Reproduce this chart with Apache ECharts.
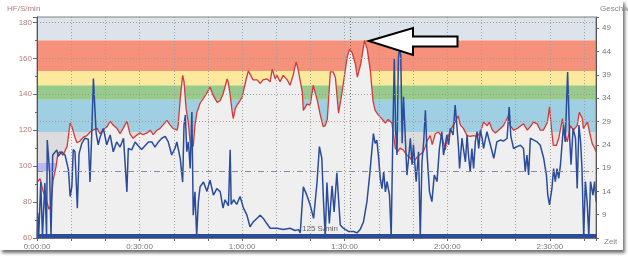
<!DOCTYPE html>
<html><head><meta charset="utf-8">
<script src="https://cdn.jsdelivr.net/npm/echarts@6/dist/echarts.min.js"></script>
<style>
html,body{margin:0;padding:0;background:#fff;}
#frame{position:absolute;left:0;top:0;width:623px;height:250px;background:#fff;box-shadow:2px 3px 3px rgba(0,0,0,0.55);}
#chart{position:absolute;left:0;top:0;width:628px;height:256px;}
</style></head>
<body>
<div id="frame"></div>
<div id="chart"></div>
<script>
// Time in minutes; heart rate (HF, S/min) on left axis
const hrPoints = [[0,91],[0.9,93],[1.8,86],[2.6,82],[3.5,76],[4.1,78],[4.7,92],[5.6,100],[6.1,107],[6.7,108],
[7.6,106],[8.8,111],[9.7,124],[10.2,122],[11.1,116],[11.7,113],[12.6,114],[13.5,116],[14.6,117],[15.5,119],
[16.4,120],[17.6,121],[18.4,118],[19.3,120],[20.5,122],[21.4,125],[22.2,123],[23.4,121],[24.3,118],[25.2,121],
[26.3,125],[27.2,118],[28.1,115.5],[29.3,117.5],[30.1,118.5],[31.0,117.5],[32.2,118.5],[33.1,120],[34.0,117.5],[35.1,120],
[36.0,121],[36.9,123],[38.0,125.5],[38.9,123],[39.8,121],[41.0,120],[41.3,123],[41.9,137.5],[42.6,150.5],[43.0,147],
[43.6,132],[44.2,125],[44.8,113.5],[45.7,111],[46.2,123],[46.8,130],[47.7,135],[48.6,137.5],[49.8,141],[50.6,144],
[51.5,139.5],[52.7,135.5],[53.6,136.5],[54.4,140],[55.6,148.5],[55.9,147],[56.5,139.5],[57.1,130],[57.4,126.5],[58.0,132],
[58.5,134],[59.4,136.5],[60.0,138.5],[60.3,137.5],[61.2,148.5],[61.8,153],[62.3,152],[63.2,148],[64.4,148],[65.3,146],
[66.1,148],[67.3,148.5],[68.2,147],[68.8,154],[69.7,148.5],[70.2,150.5],[71.1,147],[72.0,150.5],[73.2,148],[74.0,145],
[74.9,150.5],[75.8,158],[76.4,153.5],[77.6,141],[77.9,131],[78.4,132],[79.0,134.5],[79.9,134],[80.8,145],[82.0,136.5],
[82.8,129],[83.7,122],[84.3,122.5],[84.9,126],[85.8,152.5],[86.6,152.5],[87.3,149],[87.8,138],[88.2,129.5],[89.3,142],
[90.7,160.5],[91.4,165],[92.2,163],[93.1,157],[93.7,149.5],[94.0,148.5],[94.7,157],[95.8,170],[96.6,165],[97.5,153],
[98.3,136],[98.9,131],[99.8,128.5],[101.0,126],[101.9,124],[102.7,126],[103.8,124],[104.3,117],[104.8,110],[105.5,108],
[106.2,110],[107.1,109],[108.2,106],[109.2,104.5],[110.0,102],[111.2,105],[112.1,106.5],[113.0,108],[113.6,111],[114.1,114],
[114.4,113.5],[115.0,117],[115.6,112],[116.5,118],[117.4,119],[118.5,116],[119.4,109],[120.0,115],[120.9,120],[121.5,122],
[122.3,124.5],[123.2,128],[123.8,123],[124.7,121],[125.8,117],[126.7,116.5],[127.6,117],[128.8,116.5],[129.7,119],[130.6,124.5],
[131.7,122.5],[132.3,124.5],[133.2,120],[134.1,118.5],[135.0,120],[136.4,122.5],[137.9,128],[138.4,122.5],[139.4,120],[140.5,121],
[141.5,122.5],[142.3,123.5],[143.4,120],[144.3,122],[145.2,124.5],[146.3,123.5],[147.2,120],[148.1,120],[149.3,124.5],[149.9,133],
[150.4,122.5],[151.0,111.5],[151.9,111.5],[152.6,115.5],[153.7,126.5],[154.2,119],[155.1,113.5],[156.0,122.5],[156.9,120],[158.0,122.5],
[158.6,130],[159.5,126.5],[159.8,121],[161.0,124.5],[161.6,119],[162.4,112.5],[163.0,110.5],[163.5,108]];

// Speed (Geschwindigkeit, km/h) on right axis
const speedPoints = [[0,4],[0.2,9.4],[0.5,4.3],[1.1,16],[1.6,4.3],[2.3,15.8],[2.8,4.5],[3.0,25],[3.7,18],[4.1,4.3],
[4.6,21.8],[5.8,22.9],[6.2,21.5],[7.2,22.5],[8.2,21.8],[9.2,18.6],[9.7,12.9],[10.2,15],[10.6,23],[11.1,22.5],
[11.8,10.4],[12.3,22.1],[13.1,24.3],[14.0,25.4],[15.0,25.2],[15.5,16],[16.0,26],[16.5,38.2],[17.0,38.6],[17.3,26.5],
[17.9,24],[18.4,25.5],[19.4,27.5],[20.4,24],[21.4,26.1],[22.3,22.5],[23.3,24.6],[24.3,23.5],[25.3,25.4],[26.3,13.9],
[26.7,23.2],[27.7,22.9],[28.7,24.6],[29.6,23.8],[30.6,23],[31.6,23.8],[32.6,24.6],[33.6,24.6],[34.5,23.5],[35.5,24.6],
[36.5,25.4],[37.5,25.8],[38.4,24.6],[39.4,21.8],[40.4,23.3],[40.9,24.6],[41.9,21],[42.6,16],[43.0,28.2],[43.4,30.4],
[43.8,22.5],[44.3,24.6],[44.8,18.9],[45.3,31],[45.7,8.9],[46.2,13.9],[46.7,4.5],[47.2,11.8],[47.7,15],[48.7,16],
[49.7,14],[50.6,16.4],[51.6,13.2],[52.6,14.6],[53.6,13.9],[54.4,10.4],[55.0,12.2],[56.0,10.9],[56.5,22.9],[56.8,11.2],
[57.5,12.2],[58.4,11.2],[59.4,12.9],[60.4,10.4],[61.4,8.9],[62.3,6.4],[63.3,7.5],[64.3,8.2],[65.3,8.9],[66.2,8.2],
[67.2,7.1],[68.2,6.1],[70.2,6.1],[72.1,5.8],[74.0,6.1],[75.5,5.6],[76.5,5.8],[77.0,5.1],[77.9,15],[78.9,13.2],
[79.9,11.1],[80.9,8.2],[81.9,15.9],[82.6,23.6],[83.3,21.1],[83.8,11.8],[84.3,4.3],[84.8,15.9],[85.5,7.1],[86.3,15.2],
[86.9,9.6],[87.7,18],[88.7,6.8],[89.6,6.1],[91.1,5.4],[92.6,5.4],[93.6,5.1],[94.5,5.8],[95.5,7.5],[96.5,11.8],
[97.3,17.5],[98.0,23.2],[98.4,26.4],[98.9,24.3],[99.4,25],[99.9,21.4],[100.4,16.8],[100.9,14.6],[101.4,18.2],[101.9,13.9],
[102.4,16.1],[103.1,13.2],[103.6,4.3],[104.1,27],[104.5,42.5],[104.9,27],[105.3,21.8],[105.7,42.5],[106.0,44.6],[106.4,43.2],
[106.8,24.3],[107.2,34.3],[107.7,25.8],[108.2,17.5],[108.7,21.1],[109.2,25.4],[109.7,19.7],[110.1,24],[110.9,16.1],[111.6,22.5],
[112.1,4.3],[112.6,20.4],[113.1,24.6],[113.6,31.4],[114.1,21.8],[114.8,13.9],[115.5,11.8],[116.2,17.5],[117.0,16.1],[117.7,23.2],
[118.4,26.8],[118.9,21.8],[119.9,26.1],[120.4,24],[120.9,27.5],[121.7,26.1],[122.3,32.5],[122.8,28.2],[123.3,23.2],[123.6,18.9],
[124.3,25.4],[124.7,23.2],[125.3,20.3],[125.8,26.1],[126.2,21.8],[126.7,18.2],[127.2,23.2],[127.7,18.9],[128.2,24.6],[128.7,26.8],
[129.2,23.2],[129.7,27.1],[130.2,25.4],[130.6,23.2],[131.6,26.8],[132.6,24],[133.6,21.1],[134.5,24.6],[135.5,25],[136.5,24.8],
[137.5,25.4],[138.1,32.1],[138.6,25.8],[139.4,23.2],[140.4,23.6],[141.4,23.9],[142.3,23.2],[142.8,18.2],[143.3,21.8],[143.8,17.5],
[144.3,25.4],[145.3,25],[146.3,24.6],[147.2,23.9],[148.2,21.1],[149.0,17.5],[149.4,13.2],[149.9,11.1],[150.6,14.6],[151.1,18.9],
[151.6,16.1],[152.1,18.9],[152.6,16.8],[153.1,19.7],[154.0,28.2],[154.5,24.6],[155.2,39.6],[155.8,25.4],[156.2,19.7],[156.8,27.5],
[157.5,25.4],[158.0,14.6],[158.5,28.2],[159.0,24.6],[159.4,18.9],[159.9,4.3],[160.4,16.1],[160.9,11.8],[161.4,4.3],[161.9,16.1],
[162.6,13.2],[163.1,16.1],[163.5,11.8]];

// Heart-rate zone bands [from, to, colour]
const zoneBands = [[60,97,'#e6e6e6'],[97,102,'#b9b9f2'],[102,119,'#dcdcdc'],[119,137,'#9fcfe2'],
  [137,145,'#98ca8c'],[145,153,'#fde99c'],[153,170,'#f6917b'],[170,183,'#dde3ea']];
const hrTicks = [60,80,100,120,140,160,180];
const speedTicks = [9,14,19,24,29,34,39,44,49];
const hrRefLine = 125;       // S/min reference
const avgSpeed = 18.4;       // km/h average
const markerTime = 91.75;    // minutes
const hrLevelLines = [140,160,180];

function fmtTime(v){ const h=Math.floor(v/60), m=Math.round(v%60); return h+':'+String(m).padStart(2,'0')+':00'; }

const chart = echarts.init(document.getElementById('chart'), null, {renderer:'canvas'});
const font = 'Liberation Sans, Arial, sans-serif';
chart.setOption({
  animation:false,
  textStyle:{fontFamily:font},
  grid:{left:37,right:32,top:17,bottom:18,show:true,borderColor:'#808080',borderWidth:1,backgroundColor:'transparent',z:5},
  xAxis:{type:'value',min:0,max:163.5,interval:10,z:3,
    axisLine:{show:true,lineStyle:{color:'#666'}},
    axisTick:{show:true,length:3,lineStyle:{color:'#666'}},
    axisLabel:{fontSize:8,color:'#777',margin:5,fontFamily:font,
      formatter:v=> (Math.abs(v%30)<1e-6 ? fmtTime(v) : '')},
    splitLine:{show:true,lineStyle:{color:'#a0a0a0',type:[1,2],width:1}}},
  yAxis:[
    {type:'value',min:60,max:183,interval:20,position:'left',z:5,
      axisLine:{show:true,lineStyle:{color:'#555'}},
      axisTick:{show:true,length:4,lineStyle:{color:'#666'}},
      minorTick:{show:true,splitNumber:2,length:2,lineStyle:{color:'#666'}},
      axisLabel:{fontSize:8,color:'#b07a7a',margin:5,fontFamily:font,
        formatter:v=> (hrTicks.includes(v)? String(v):'')},
      splitLine:{show:false}},
    {type:'value',min:4,max:51.4,interval:5,position:'right',z:5,
      axisLine:{show:true,lineStyle:{color:'#555'}},
      axisTick:{show:true,length:3,lineStyle:{color:'#666'}},
      axisLabel:{fontSize:8,color:'#777',margin:6,fontFamily:font,
        formatter:v=> (speedTicks.includes(Math.round(v*10)/10)? String(Math.round(v)):'')},
      splitLine:{show:false}}
  ],
  series:[
    {type:'line',name:'zones',data:[],yAxisIndex:0,z:1,silent:true,
      markArea:{silent:true,itemStyle:{opacity:1},
        data:zoneBands.map(b=>[{yAxis:b[0],itemStyle:{color:b[2],opacity:1}},{yAxis:b[1]}])},
      markLine:{silent:true,symbol:'none',label:{show:false},
        lineStyle:{color:'#9a9a9a',type:[1,2],width:1},
        data:hrLevelLines.map(v=>({yAxis:v}))}},
    {type:'line',name:'HF',data:hrPoints,yAxisIndex:0,z:2,showSymbol:false,
      lineStyle:{color:'#d23a3a',width:1.3},
      areaStyle:{color:'#efefef',opacity:1,origin:'start'}},
    {type:'line',name:'ref',data:[],yAxisIndex:0,z:3,silent:true,
      markLine:{silent:true,symbol:'none',label:{show:false},
        data:[
          {yAxis:hrRefLine,lineStyle:{color:'#c98a8a',type:[1,2],width:1}},
          {xAxis:markerTime,lineStyle:{color:'#6c6c6c',type:[1,2],width:1}}
        ]}},
    {type:'line',name:'Geschwindigkeit',data:speedPoints,yAxisIndex:1,z:4,showSymbol:false,
      lineStyle:{color:'#2b4c9b',width:1.5},
      markLine:{silent:true,symbol:'none',label:{show:false},
        data:[
          {yAxis:avgSpeed,lineStyle:{color:'#8a8aa6',type:[6,3,1,3],width:1}},
          {yAxis:4.4,lineStyle:{color:'#2b4c9b',type:'solid',width:4}}
        ]}}
  ],
  graphic:[
    {type:'text',left:7,top:5,z:10,style:{text:'HF/S/min',fill:'#b07a7a',font:'8px '+font}},
    {type:'text',left:600,top:5,z:10,style:{text:'Geschw',fill:'#888',font:'8px '+font}},
    {type:'text',left:604,top:238,z:10,style:{text:'Zeit',fill:'#888',font:'8px '+font}},
    {type:'text',left:302,top:225,z:10,style:{text:'125 S/min',fill:'#666',font:'8px '+font}},
    {type:'polygon',z:20,shape:{points:[[369,41],[413,28],[413,36.5],[457.5,36.5],[457.5,46.5],[413,46.5],[413,55]]},
      style:{fill:'#ffffff',stroke:'#000',lineWidth:2,lineJoin:'miter'}}
  ]
});
</script>
</body></html>
